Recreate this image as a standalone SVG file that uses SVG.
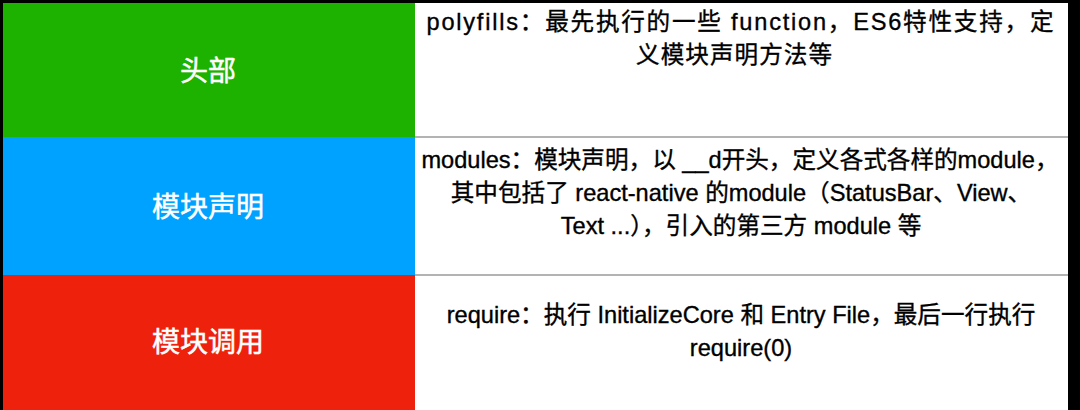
<svg xmlns="http://www.w3.org/2000/svg" width="1080" height="410" viewBox="0 0 1080 410">
  <style>
    .label { font-family: "Liberation Sans", "Noto Sans CJK SC", sans-serif; font-size: 28px; fill: #ffffff; stroke: #ffffff; stroke-width: 0.5; text-anchor: middle; }
    .desc { font-family: "Liberation Sans", "Noto Sans CJK SC", sans-serif; font-size: 23.6px; fill: #000000; stroke: #000000; stroke-width: 0.35; text-anchor: middle; }
    .cell { fill: #ffffff; }
    .sep { stroke: #9a9a9a; stroke-width: 1.5; }
  </style>
  <rect x="0" y="0" width="1080" height="410" fill="#000000"/>
  <g id="row-head">
    <rect x="3" y="3" width="412" height="134" fill="#1DB100"/>
    <rect class="cell" x="415" y="3" width="653" height="134"/>
    <text class="label" x="208" y="81">头部</text>
    <text class="desc" x="740" y="30" textLength="627" lengthAdjust="spacing">polyfills：最先执行的一些 function，ES6特性支持，定</text>
    <text class="desc" x="734" y="63" textLength="196" lengthAdjust="spacing">义模块声明方法等</text>
  </g>
  <g id="row-modules">
    <rect x="3" y="137" width="412" height="138" fill="#00A2FF"/>
    <rect class="cell" x="415" y="137" width="653" height="138"/>
    <text class="label" x="208" y="217">模块声明</text>
    <text class="desc" x="740" y="168">modules：模块声明，以 __d开头，定义各式各样的module，</text>
    <text class="desc" x="741" y="201">其中包括了 react-native 的module（StatusBar、View、</text>
    <text class="desc" x="741" y="234">Text ...），引入的第三方 module 等</text>
  </g>
  <g id="row-require">
    <rect x="3" y="275" width="412" height="135" fill="#EE220C"/>
    <rect class="cell" x="415" y="275" width="653" height="135"/>
    <text class="label" x="208" y="352">模块调用</text>
    <text class="desc" x="741" y="323">require：执行 InitializeCore 和 Entry File，最后一行执行</text>
    <text class="desc" x="741" y="356">require(0)</text>
  </g>
  <g id="separators">
    <line class="sep" x1="415" y1="137" x2="1068" y2="137"/>
    <line class="sep" x1="415" y1="275" x2="1068" y2="275"/>
  </g>
</svg>
